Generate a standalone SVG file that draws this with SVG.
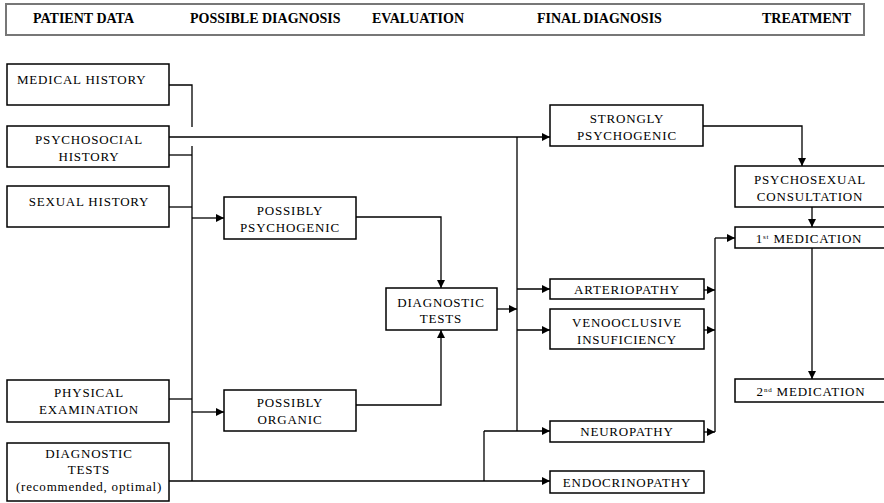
<svg xmlns="http://www.w3.org/2000/svg" width="884" height="503" viewBox="0 0 884 503">
<style>
.box{fill:#fff;stroke:#000;stroke-width:1.5}
.hdr{fill:#fff;stroke:#777;stroke-width:2}
.ht{font-family:"Liberation Serif",serif;font-weight:bold;font-size:14px;fill:#000}
.t{font-family:"Liberation Serif",serif;font-size:13px;letter-spacing:0.8px;fill:#000;text-anchor:middle}
.l{fill:none;stroke:#000;stroke-width:1.3}
.a{fill:none;stroke:#000;stroke-width:1.3;marker-end:url(#ah)}
</style>
<defs>
<marker id="ah" viewBox="0 0 10 10" refX="10" refY="5" markerWidth="8" markerHeight="8" markerUnits="userSpaceOnUse" orient="auto">
<path d="M0,0 L10,5 L0,10 z" fill="#000"/>
</marker>
</defs>
<rect width="884" height="503" fill="#fff"/>
<g id="header">
<rect class="hdr" x="6" y="4" width="858" height="31"/>
<text class="ht" x="33" y="23">PATIENT DATA</text>
<text class="ht" x="190" y="23">POSSIBLE DIAGNOSIS</text>
<text class="ht" x="372" y="23">EVALUATION</text>
<text class="ht" x="537" y="23">FINAL DIAGNOSIS</text>
<text class="ht" x="762" y="23">TREATMENT</text>
</g>
<g id="connectors">
<polyline class="l" points="169,85 192,85 192,127"/>
<line class="l" x1="192" y1="146" x2="192" y2="481"/>
<line class="l" x1="169" y1="155" x2="192" y2="155"/>
<line class="l" x1="169" y1="207" x2="192" y2="207"/>
<line class="l" x1="169" y1="399" x2="192" y2="399"/>
<line class="a" x1="192" y1="218" x2="224" y2="218"/>
<line class="a" x1="192" y1="412" x2="224" y2="412"/>
<polyline class="a" points="356,217 441,217 441,288"/>
<polyline class="a" points="356,405 441,405 441,330"/>
<line class="a" x1="497" y1="309" x2="517" y2="309"/>
<line class="l" x1="517" y1="137" x2="517" y2="431"/>
<line class="a" x1="169" y1="137" x2="550" y2="137"/>
<line class="a" x1="517" y1="289" x2="550" y2="289"/>
<line class="a" x1="517" y1="330" x2="550" y2="330"/>
<line class="a" x1="484" y1="431" x2="550" y2="431"/>
<line class="a" x1="169" y1="481" x2="550" y2="481"/>
<line class="l" x1="484" y1="481" x2="484" y2="431"/>
<line class="a" x1="704" y1="290" x2="715" y2="290"/>
<line class="a" x1="704" y1="330" x2="715" y2="330"/>
<line class="a" x1="704" y1="432" x2="715" y2="432"/>
<line class="l" x1="715" y1="238" x2="715" y2="432"/>
<line class="a" x1="715" y1="238" x2="735" y2="238"/>
<polyline class="a" points="703,126 802,126 802,166"/>
<line class="a" x1="812" y1="207" x2="812" y2="227"/>
<line class="a" x1="812" y1="248" x2="812" y2="379"/>
</g>
<g id="medical-history">
<rect class="box" x="7" y="64" width="162" height="41"/>
<text class="t" x="17" y="84" style="text-anchor:start">MEDICAL HISTORY</text>
</g>
<g id="psychosocial-history">
<rect class="box" x="7" y="126" width="162" height="41"/>
<text class="t" x="89" y="144">PSYCHOSOCIAL</text>
<text class="t" x="89" y="161">HISTORY</text>
</g>
<g id="sexual-history">
<rect class="box" x="7" y="186" width="162" height="41"/>
<text class="t" x="89" y="206">SEXUAL HISTORY</text>
</g>
<g id="physical-examination">
<rect class="box" x="7" y="380" width="162" height="42"/>
<text class="t" x="89" y="397">PHYSICAL</text>
<text class="t" x="89" y="414">EXAMINATION</text>
</g>
<g id="diagnostic-tests-patient">
<rect class="box" x="7" y="443" width="162" height="58"/>
<text class="t" x="89" y="458">DIAGNOSTIC</text>
<text class="t" x="89" y="474">TESTS</text>
<text class="t" x="89" y="491">(recommended, optimal)</text>
</g>
<g id="possibly-psychogenic">
<rect class="box" x="224" y="197" width="132" height="42"/>
<text class="t" x="290" y="215">POSSIBLY</text>
<text class="t" x="290" y="232">PSYCHOGENIC</text>
</g>
<g id="possibly-organic">
<rect class="box" x="224" y="390" width="132" height="41"/>
<text class="t" x="290" y="407">POSSIBLY</text>
<text class="t" x="290" y="424">ORGANIC</text>
</g>
<g id="diagnostic-tests">
<rect class="box" x="386" y="288" width="111" height="42"/>
<text class="t" x="441" y="307">DIAGNOSTIC</text>
<text class="t" x="441" y="323">TESTS</text>
</g>
<g id="strongly-psychogenic">
<rect class="box" x="550" y="105" width="153" height="41"/>
<text class="t" x="627" y="123">STRONGLY</text>
<text class="t" x="627" y="140">PSYCHOGENIC</text>
</g>
<g id="arteriopathy">
<rect class="box" x="550" y="279" width="154" height="20"/>
<text class="t" x="627" y="294">ARTERIOPATHY</text>
</g>
<g id="venoocclusive">
<rect class="box" x="550" y="309" width="154" height="40"/>
<text class="t" x="627" y="327">VENOOCLUSIVE</text>
<text class="t" x="627" y="344">INSUFICIENCY</text>
</g>
<g id="neuropathy">
<rect class="box" x="550" y="421" width="154" height="21"/>
<text class="t" x="627" y="436">NEUROPATHY</text>
</g>
<g id="endocrinopathy">
<rect class="box" x="550" y="471" width="154" height="22"/>
<text class="t" x="627" y="487">ENDOCRINOPATHY</text>
</g>
<g id="psychosexual-consultation">
<rect class="box" x="735" y="166" width="160" height="41"/>
<text class="t" x="810" y="184">PSYCHOSEXUAL</text>
<text class="t" x="810" y="201">CONSULTATION</text>
</g>
<g id="first-medication">
<rect class="box" x="735" y="227" width="160" height="21"/>
<text class="t" x="809" y="243">1<tspan font-size="7" dy="-4">st</tspan><tspan dy="4"> MEDICATION</tspan></text>
</g>
<g id="second-medication">
<rect class="box" x="735" y="379" width="160" height="23"/>
<text class="t" x="811" y="396">2<tspan font-size="7" dy="-4">nd</tspan><tspan dy="4"> MEDICATION</tspan></text>
</g>
</svg>
